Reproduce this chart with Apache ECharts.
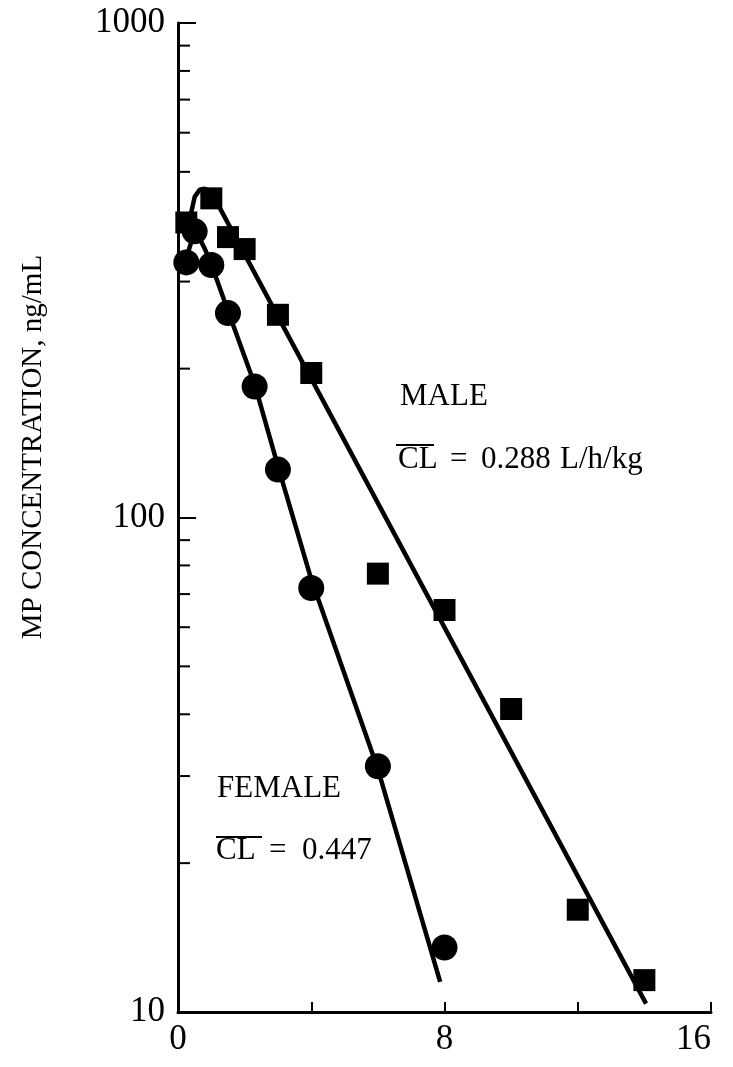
<!DOCTYPE html>
<html>
<head>
<meta charset="utf-8">
<script src="https://cdn.jsdelivr.net/npm/echarts@6/dist/echarts.min.js"></script>
<style>
html,body{margin:0;padding:0;background:#fff;}
#chart{width:733px;height:1067px;}
</style>
</head>
<body>
<div id="chart"></div>
<script>
// ---- data ----
const maleTime = [0.25, 1, 1.5, 2, 3, 4, 6, 8, 10, 12, 14];
const maleConc = [395, 442, 369, 349, 257, 196, 77, 65, 41, 16.1, 11.6];

const femaleTime = [0.25, 0.5, 1, 1.5, 2.3, 3, 4, 6, 8];
const femaleConc = [328, 379, 324, 259, 184, 125, 72, 31.4, 13.5];

// fitted curves
const maleFitTime = [0.35, 0.5, 0.65, 0.8, 1.0, 14.05];
const maleFitConc = [400, 445, 460, 462, 455, 10.4];

const femaleFitTime = [0.25, 0.45, 0.6, 0.8, 1.0, 1.5, 2.3, 3, 4, 6, 7.87];
const femaleFitConc = [335, 370, 372, 350, 325, 262, 186, 127, 75, 31, 11.5];

const yMinorTicks = [20, 30, 40, 50, 60, 70, 80, 90, 200, 300, 400, 500, 600, 700, 800, 900];
const xTickLabels = [0, 8, 16];

const yAxisTitle = 'MP CONCENTRATION, ng/mL';
const maleLabel = 'MALE';
const femaleLabel = 'FEMALE';
const clText = 'CL';
const eqText = '=';
const maleCLValue = '0.288';
const maleCLUnit = 'L/h/kg';
const femaleCLValue = '0.447';

const zip = (a, b) => a.map((v, i) => [v, b[i]]);
const FONT = '"Liberation Serif", "DejaVu Serif", serif';
const T = (text, x, y, size) => ({
  type: 'text', x: x, y: y,
  style: {text: text, fill: '#000', font: size + 'px ' + FONT, textAlign: 'left', textVerticalAlign: 'middle'}
});

const chart = echarts.init(document.getElementById('chart'), null, {renderer: 'canvas'});

const option = {
  backgroundColor: '#fff',
  animation: false,
  grid: {left: 178, top: 23, right: 22, bottom: 55},
  xAxis: {
    type: 'value', min: 0, max: 16, interval: 4,
    axisLine: {show: true, lineStyle: {color: '#000', width: 3}},
    axisTick: {show: true, inside: true, length: 10, lineStyle: {color: '#000', width: 2}},
    axisLabel: {
      color: '#000', fontFamily: FONT, fontSize: 35, margin: 10,
      alignMaxLabel: 'right',
      formatter: v => (xTickLabels.indexOf(v) >= 0 ? String(v) : '')
    },
    splitLine: {show: false}
  },
  yAxis: {
    type: 'log', logBase: 10, min: 10, max: 1000,
    axisLine: {show: true, lineStyle: {color: '#000', width: 3}},
    axisTick: {show: true, inside: true, length: 18, lineStyle: {color: '#000', width: 2}},
    axisLabel: {color: '#000', fontFamily: FONT, fontSize: 35, margin: 13,
                formatter: v => String(Math.round(v))},
    splitLine: {show: false},
    minorTick: {show: false}
  },
  graphic: [
    {type: 'text', x: 33, y: 447, rotation: Math.PI / 2,
     style: {text: yAxisTitle, fill: '#000', font: '29px ' + FONT, textAlign: 'center', textVerticalAlign: 'middle'}},
    T(maleLabel, 400, 397, 31),
    T(clText, 398, 460, 31),
    {type: 'line', shape: {x1: 396, y1: 445, x2: 434, y2: 445}, style: {stroke: '#000', lineWidth: 2}},
    T(eqText, 450, 460, 31),
    T(maleCLValue, 481, 460, 31),
    T(maleCLUnit, 560, 460, 31),
    T(femaleLabel, 217, 789, 31),
    T(clText, 216, 851, 31),
    {type: 'line', shape: {x1: 216, y1: 837, x2: 262, y2: 837}, style: {stroke: '#000', lineWidth: 2}},
    T(eqText, 269, 851, 31),
    T(femaleCLValue, 302, 851, 31)
  ],
  series: [
    {
      type: 'custom', silent: true, clip: false, z: 3,
      data: yMinorTicks.map(v => [0, v]),
      renderItem: (params, api) => {
        const p = api.coord([api.value(0), api.value(1)]);
        return {type: 'line', shape: {x1: p[0], y1: p[1], x2: p[0] + 12, y2: p[1]},
                style: {stroke: '#000', lineWidth: 2}};
      }
    },
    {type: 'line', data: zip(maleFitTime, maleFitConc), showSymbol: false, symbol: 'none',
     lineStyle: {color: '#000', width: 4.5}, z: 2},
    {type: 'line', data: zip(femaleFitTime, femaleFitConc), showSymbol: false, symbol: 'none',
     lineStyle: {color: '#000', width: 4.5}, z: 2},
    {type: 'scatter', data: zip(maleTime, maleConc), symbol: 'rect', symbolSize: 22,
     itemStyle: {color: '#000', opacity: 1}, z: 4},
    {type: 'scatter', data: zip(femaleTime, femaleConc), symbol: 'circle', symbolSize: 26,
     itemStyle: {color: '#000', opacity: 1}, z: 4}
  ]
};
chart.setOption(option);
</script>
</body>
</html>
